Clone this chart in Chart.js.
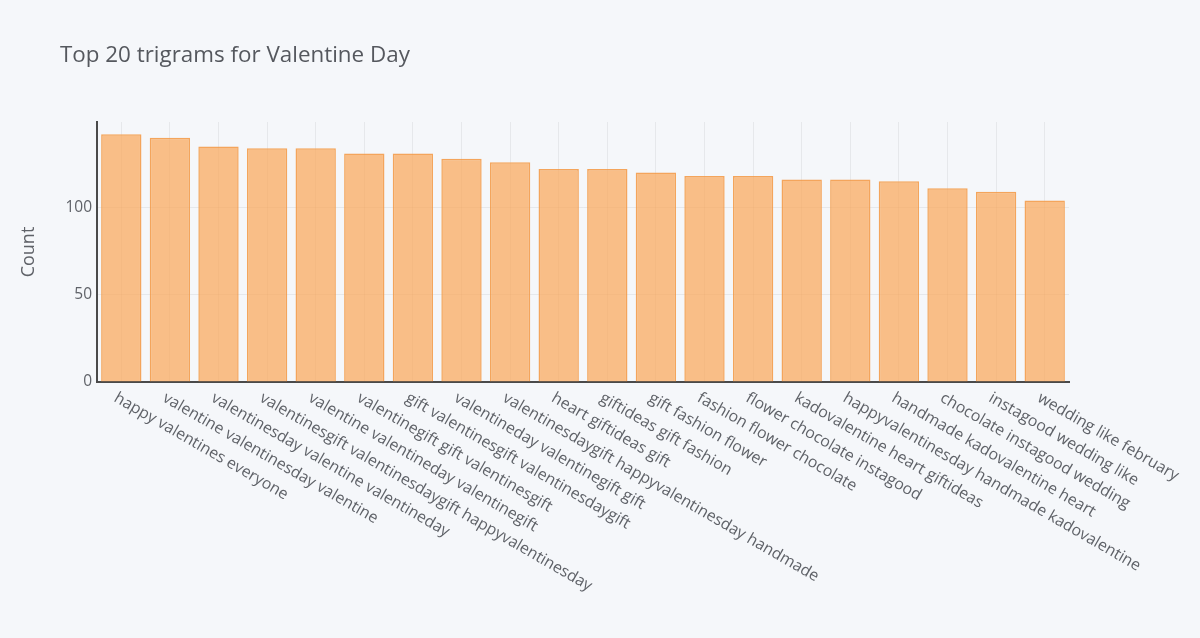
<!DOCTYPE html>
<html>
<head>
<meta charset="utf-8">
<script src="https://cdn.jsdelivr.net/npm/chart.js@4.4.1/dist/chart.umd.min.js"></script>
<style>
  html, body { margin: 0; padding: 0; background: #f5f7fa; }
  #wrap { width: 1200px; height: 638px; position: relative; }
</style>
</head>
<body>
<div id="wrap"><canvas id="chart"></canvas></div>
<script>
const trigrams = [
  "happy valentines everyone",
  "valentine valentinesday valentine",
  "valentinesday valentine valentineday",
  "valentinesgift valentinesdaygift happyvalentinesday",
  "valentine valentineday valentinegift",
  "valentinegift gift valentinesgift",
  "gift valentinesgift valentinesdaygift",
  "valentineday valentinegift gift",
  "valentinesdaygift happyvalentinesday handmade",
  "heart giftideas gift",
  "giftideas gift fashion",
  "gift fashion flower",
  "fashion flower chocolate",
  "flower chocolate instagood",
  "kadovalentine heart giftideas",
  "happyvalentinesday handmade kadovalentine",
  "handmade kadovalentine heart",
  "chocolate instagood wedding",
  "instagood wedding like",
  "wedding like february"
];
const counts = [142, 140, 135, 134, 134, 131, 131, 128, 126, 122, 122, 120, 118, 118, 116, 116, 115, 111, 109, 104];
const yTicks = [0, 50, 100];
const titleText = "Top 20 trigrams for Valentine Day";

const FONT = "'Open Sans', sans-serif";
const TEXT = "#5f6268";

// plotly-style labels: start at the tick and run down to the right
const labelsAndTitle = {
  id: "labelsAndTitle",
  afterDraw(chart) {
    const ctx = chart.ctx;
    const x = chart.scales.x;
    ctx.save();
    ctx.fillStyle = TEXT;
    ctx.font = "15.9px " + FONT;
    ctx.textAlign = "left";
    ctx.textBaseline = "top";
    trigrams.forEach((t, i) => {
      const px = x.getPixelForValue(i);
      ctx.save();
      ctx.translate(px - 2, chart.chartArea.bottom + 8);
      ctx.rotate(30 * Math.PI / 180);
      ctx.fillText(t, 0, 0);
      ctx.restore();
    });
    ctx.font = "22.4px " + FONT;
    ctx.fillStyle = "#55585e";
    ctx.textBaseline = "alphabetic";
    ctx.fillText(titleText, 60, 62);
    ctx.restore();
  }
};

new Chart(document.getElementById("chart"), {
  type: "bar",
  data: {
    labels: trigrams,
    datasets: [{
      label: "Count",
      data: counts,
      backgroundColor: "rgba(251,165,85,0.7)",
      borderColor: "rgba(243,150,64,0.85)",
      borderWidth: 1.5,
      barPercentage: 0.83,
      categoryPercentage: 1
    }]
  },
  options: {
    responsive: true,
    maintainAspectRatio: false,
    animation: false,
    layout: { padding: { top: 122, right: 131, left: 0, bottom: 0 } },
    plugins: { legend: { display: false }, tooltip: { enabled: false }, title: { display: false } },
    scales: {
      x: {
        afterFit: s => { s.height = 256; },
        ticks: { display: false },
        grid: { offset: false, color: "rgba(0,0,0,0.06)", drawTicks: false },
        border: { display: true, color: "#4a4a4a", width: 2 }
      },
      y: {
        min: 0,
        max: 149,
        afterFit: s => { s.width = 97; },
        afterBuildTicks: s => { s.ticks = yTicks.map(v => ({ value: v })); },
        ticks: { color: TEXT, font: { family: FONT, size: 15.5 }, padding: 5 },
        grid: { color: "rgba(0,0,0,0.06)", drawTicks: false },
        border: { display: true, color: "#4a4a4a", width: 2 },
        title: { display: true, text: "Count", color: TEXT, font: { family: FONT, size: 18 }, padding: { top: 18, bottom: 0 } }
      }
    }
  },
  plugins: [labelsAndTitle]
});
</script>
</body>
</html>
